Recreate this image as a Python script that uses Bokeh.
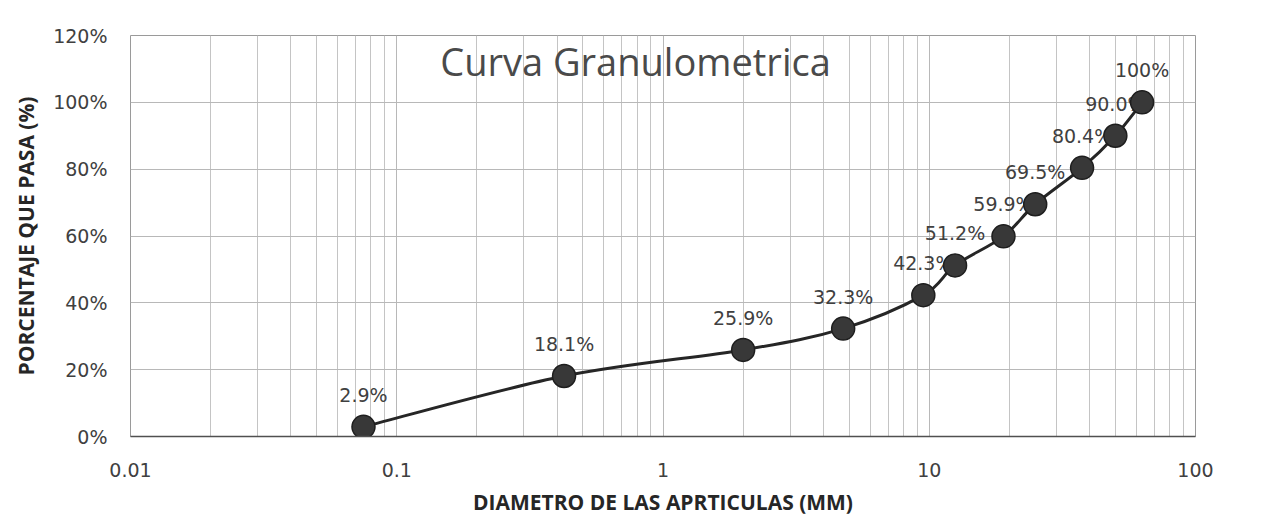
import math
from bokeh.plotting import figure
from bokeh.models import FixedTicker, CustomJSTickFormatter, Label, ColumnDataSource, Range1d
from bokeh.core.properties import value
from bokeh.embed import file_html
from bokeh.resources import INLINE

# ---- data ----
diametro = [0.075, 0.425, 2.0, 4.75, 9.5, 12.5, 19.0, 25.0, 37.5, 50.0, 63.0]
porcentaje = [2.9, 18.1, 25.9, 32.3, 42.3, 51.2, 59.9, 69.5, 80.4, 90.0, 100.0]
etiquetas = ["2.9%", "18.1%", "25.9%", "32.3%", "42.3%", "51.2%", "59.9%",
             "69.5%", "80.4%", "90.0%", "100%"]
x_ticks = [0.01, 0.1, 1, 10, 100]
x_tick_labels = ["0.01", "0.1", "1", "10", "100"]
y_ticks = [0, 20, 40, 60, 80, 100, 120]
y_tick_labels = ["0%", "20%", "40%", "60%", "80%", "100%", "120%"]
titulo = "Curva Granulometrica"
eje_x = "DIAMETRO DE LAS APRTICULAS (MM)"
eje_y = "PORCENTAJE QUE PASA (%)"

FONT = "Open Sans"
NUM_FONT = "DejaVu Sans"

p = figure(width=1274, height=519, x_axis_type="log",
           x_range=Range1d(0.01, 100), y_range=Range1d(0, 120),
           output_backend="svg", toolbar_location=None,
           min_border_left=130, min_border_right=79,
           min_border_top=35, min_border_bottom=83)
p.background_fill_color = "white"
p.border_fill_color = "white"
p.outline_line_color = "#9a9a9a"

# ticks / grid
minor = [k * 10.0 ** e for e in range(-2, 2) for k in range(2, 10)]
p.xaxis.ticker = FixedTicker(ticks=x_ticks, minor_ticks=minor)
p.yaxis.ticker = FixedTicker(ticks=y_ticks)
fmt_code = """
for (let i = 0; i < t.length; i++) {
  if (Math.abs(t[i] - tick) <= 1e-9 * Math.max(1, Math.abs(t[i]))) return l[i];
}
return '';
"""
p.xaxis.formatter = CustomJSTickFormatter(args=dict(t=x_ticks, l=x_tick_labels), code=fmt_code)
p.yaxis.formatter = CustomJSTickFormatter(args=dict(t=y_ticks, l=y_tick_labels), code=fmt_code)

p.xgrid.grid_line_color = "#b8b8b8"
p.xgrid.minor_grid_line_color = "#c4c4c4"
p.ygrid.grid_line_color = "#b8b8b8"

for ax in (p.xaxis, p.yaxis):
    ax.major_tick_line_color = None
    ax.minor_tick_line_color = None
    ax.major_tick_out = 0
    ax.major_label_text_font = NUM_FONT
    ax.major_label_text_font_size = "19px"
    ax.major_label_text_color = "#404040"
    ax.axis_label_text_font = FONT
    ax.axis_label_text_font_style = "bold"
    ax.axis_label_text_font_size = "21px"
    ax.axis_label_text_color = "#262626"

p.xaxis.axis_line_color = "#505050"
p.xaxis.axis_line_width = 1.5
p.yaxis.axis_line_color = None
p.xaxis.major_label_standoff = 22
p.yaxis.major_label_standoff = 23
p.xaxis.axis_label = eje_x
p.yaxis.axis_label = eje_y
p.xaxis.axis_label_standoff = 8
p.yaxis.axis_label_standoff = 10

# title inside plot area
p.add_layout(Label(x=505, y=376, x_units="screen", y_units="screen", text=titulo,
                   text_align="center", text_baseline="middle",
                   text_font=FONT, text_font_size="38px", text_color="#4a4a4a"))

# data labels (drawn first so markers overlap them)
src = ColumnDataSource(dict(x=diametro, y=porcentaje, t=etiquetas))
p.text(x="x", y="y", text="t", source=src, y_offset=-32,
       text_align="center", text_baseline="middle",
       text_font=value(NUM_FONT), text_font_size="19px", text_color="#404040")

# smoothed line (Catmull-Rom -> cubic Bezier in log-x / linear-y space)
lx = [math.log10(v) for v in diametro]
n = len(lx)
bz = dict(x0=[], y0=[], x1=[], y1=[], cx0=[], cy0=[], cx1=[], cy1=[])
for i in range(n - 1):
    i0 = max(i - 1, 0)
    i3 = min(i + 2, n - 1)
    c0x = lx[i] + (lx[i + 1] - lx[i0]) / 6.0
    c0y = porcentaje[i] + (porcentaje[i + 1] - porcentaje[i0]) / 6.0
    c1x = lx[i + 1] - (lx[i3] - lx[i]) / 6.0
    c1y = porcentaje[i + 1] - (porcentaje[i3] - porcentaje[i]) / 6.0
    bz["x0"].append(diametro[i]); bz["y0"].append(porcentaje[i])
    bz["x1"].append(diametro[i + 1]); bz["y1"].append(porcentaje[i + 1])
    bz["cx0"].append(10 ** c0x); bz["cy0"].append(c0y)
    bz["cx1"].append(10 ** c1x); bz["cy1"].append(c1y)
p.bezier(x0="x0", y0="y0", x1="x1", y1="y1", cx0="cx0", cy0="cy0",
         cx1="cx1", cy1="cy1", source=ColumnDataSource(bz),
         line_color="#262626", line_width=3)

p.scatter(x="x", y="y", source=src, size=23, marker="circle",
          fill_color="#383838", line_color="#1e1e1e", line_width=1.5)

open("out.html", "w").write(file_html(p, INLINE))
